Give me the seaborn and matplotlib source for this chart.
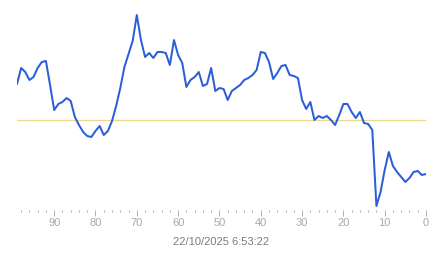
import matplotlib
matplotlib.use("Agg")
import matplotlib.pyplot as plt
import seaborn as sns
import pandas as pd
from matplotlib.ticker import MultipleLocator

# Data: age (x, counting down to 0) and reading values
ages = list(range(99, -1, -1))
pix_y = [84, 68, 72, 80, 77, 68, 62, 61, 85, 110,
         104, 102, 98, 101, 117, 125, 132, 136, 137, 131,
         126, 135, 131, 121, 106, 88, 67, 54, 41, 15,
         40, 57, 53, 58, 52, 52, 53, 65, 40, 55,
         63, 87, 80, 77, 72, 86, 84, 68, 91, 88,
         89, 100, 91, 88, 85, 80, 78, 75, 70, 52,
         53, 62, 79, 73, 66, 65, 75, 76, 78, 100,
         109, 102, 120, 116, 118, 116, 120, 125, 115, 104,
         104, 112, 118, 112, 123, 124, 130, 206, 192, 170,
         152, 166, 172, 177, 182, 178, 172, 171, 175, 174]
values = [210 - p for p in pix_y]
reference = 90
title_text = "22/10/2025 6:53:22"
tick_values = list(range(0, 100, 10))

df = pd.DataFrame({"age": ages, "value": values})

sns.set_theme(style="white")
plt.rcParams["font.family"] = ["Liberation Sans", "DejaVu Sans"]

fig = plt.figure(figsize=(4.43, 2.58), dpi=100)
ax = fig.add_axes([17 / 443, 48 / 258, 409 / 443, 210 / 258])

ax.axhline(reference, color="#ecd98e", linewidth=0.9, zorder=1)
sns.lineplot(data=df, x="age", y="value", ax=ax, color="#2b5fd9",
             linewidth=1.45, zorder=2)

ax.set_xlim(99, 0)
ax.set_ylim(0, 210)
for s in ax.spines.values():
    s.set_visible(False)
ax.set_yticks([])
ax.set_xticks(tick_values)
ax.set_xticklabels([str(t) for t in tick_values])
ax.xaxis.set_minor_locator(MultipleLocator(2))
ax.tick_params(axis="x", which="major", direction="out", length=4, width=0.7,
               color="#b0b0b0", labelsize=8, labelcolor="#a8a8a8", pad=2, bottom=True)
ax.tick_params(axis="x", which="minor", direction="out", length=1.2, width=0.7,
               color="#b0b0b0", bottom=True)
ax.set_xlabel(title_text, fontsize=8, color="#7a7a7a", labelpad=6)
ax.set_ylabel("")

fig.savefig("out.png", dpi=100)
